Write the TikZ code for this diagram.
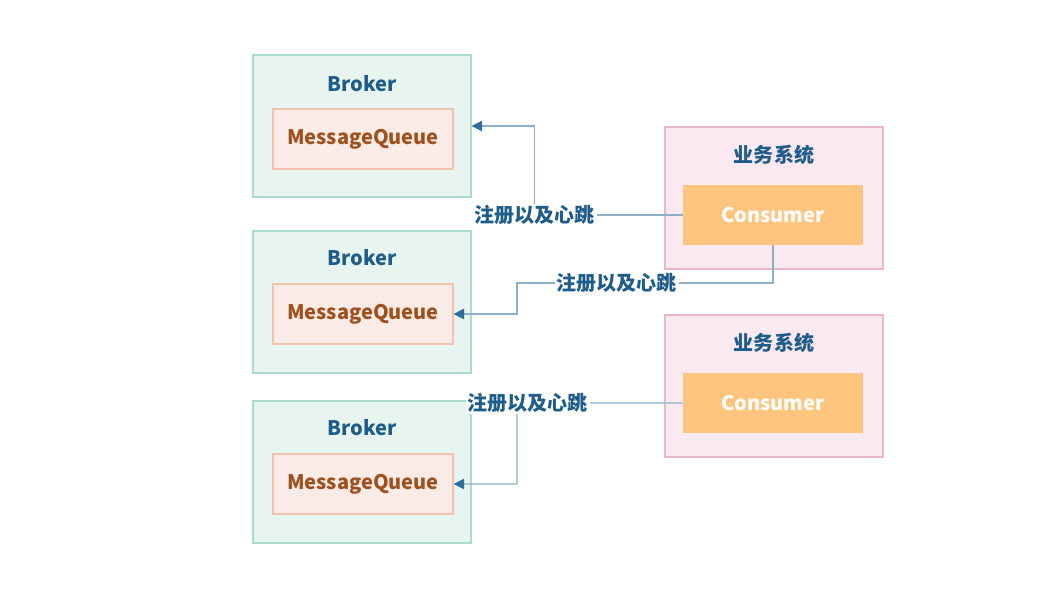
\documentclass[tikz,border=0pt]{standalone}
\usepackage{fontspec}
\setmainfont{Noto Sans CJK SC}
\usepackage{tikz}
\usetikzlibrary{arrows.meta, positioning}
\definecolor{brokerfill}{HTML}{E8F4F0}
\definecolor{brokerline}{HTML}{A9DCC9}
\definecolor{mqfill}{HTML}{FBEBE6}
\definecolor{mqline}{HTML}{F2C2AD}
\definecolor{mqtext}{HTML}{A0501E}
\definecolor{titleblue}{HTML}{1E5C8A}
\definecolor{sysfill}{HTML}{FAE9F0}
\definecolor{sysline}{HTML}{EBB8C9}
\definecolor{consfill}{HTML}{FFC47D}
\definecolor{linkline}{HTML}{8BB0C8}
\definecolor{tipblue}{HTML}{2D6E9E}

\begin{document}
\begin{tikzpicture}[
    every node/.style={font=\fontsize{11.4}{14}\selectfont\bfseries},
    brokerbox/.style={draw=brokerline, fill=brokerfill, line width=0.7pt, minimum width=4.36cm, minimum height=2.84cm, inner sep=0pt},
    mqbox/.style={draw=mqline, fill=mqfill, line width=0.7pt, minimum width=3.6cm, minimum height=1.2cm, inner sep=0pt, text=mqtext},
    sysbox/.style={draw=sysline, fill=sysfill, line width=0.7pt, minimum width=4.36cm, minimum height=2.84cm, inner sep=0pt},
    consbox/.style={fill=consfill, minimum width=3.6cm, minimum height=1.2cm, inner sep=0pt, text=white},
    title/.style={text=titleblue},
    link/.style={draw=linkline, line width=0.7pt, -{Triangle[length=6pt, width=6pt, color=tipblue]}},
    lbl/.style={fill=white, text=titleblue, inner sep=1pt}
  ]
		\useasboundingbox (0,0) rectangle (21,-12.12);
		\draw (7.24cm,-2.52cm) node[brokerbox] (b1) {}
		(7.24cm,-1.68cm) node[title] (t1) {Broker}
		(7.26cm,-2.78cm) node[mqbox] (mq1) {MessageQueue}
		(7.24cm,-6.04cm) node[brokerbox] (b2) {}
		(7.24cm,-5.16cm) node[title] (t2) {Broker}
		(7.26cm,-6.28cm) node[mqbox] (mq2) {MessageQueue}
		(7.24cm,-9.44cm) node[brokerbox] (b3) {}
		(7.24cm,-8.56cm) node[title] (t3) {Broker}
		(7.26cm,-9.68cm) node[mqbox] (mq3) {MessageQueue};
		
		\draw (15.48cm,-3.96cm) node[sysbox] (s1) {}
		(15.48cm,-3.1cm) node[title] (st1) {业务系统}
		(15.46cm,-4.3cm) node[consbox] (con1) {Consumer}
		(15.48cm,-7.72cm) node[sysbox] (s2) {}
		(15.48cm,-6.86cm) node[title] (st2) {业务系统}
		(15.46cm,-8.06cm) node[consbox] (con2) {Consumer};
		
		\draw[link] (con1.west) -- ++(-2.96,0) node[lbl] {注册以及心跳} |- (b1.east);
		\draw[link] (con1.south) |- (10.34,-5.66) node[lbl, pos=0.805] {注册以及心跳} |- (mq2.east);
		\draw[link] (con2.west) -- node[lbl, pos=0.934] {注册以及心跳} (10.34,-8.06) |- (mq3.east);
	\end{tikzpicture}
\end{document}
